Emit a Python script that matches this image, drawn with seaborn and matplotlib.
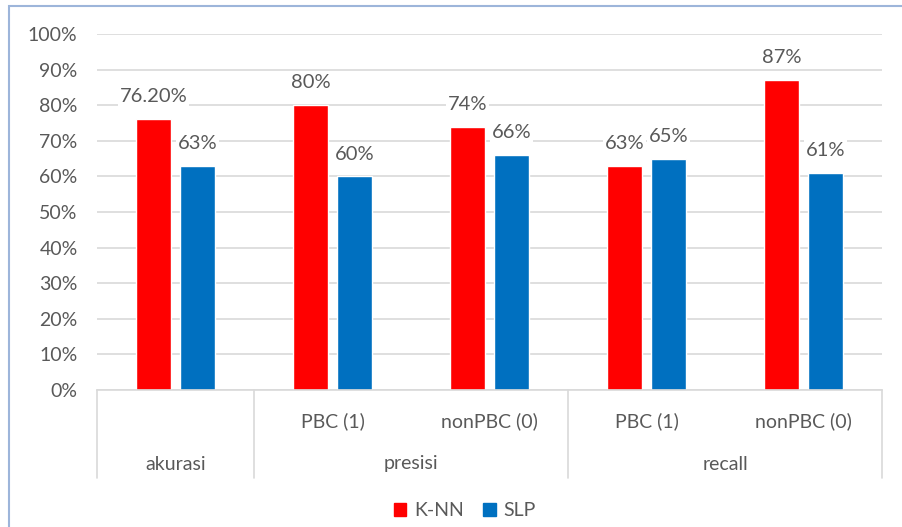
import matplotlib
matplotlib.use("Agg")
import matplotlib.pyplot as plt
import matplotlib.transforms as mtransforms
from matplotlib.patches import Rectangle
import pandas as pd
import seaborn as sns

# data
metrics = ["akurasi", "presisi", "presisi", "recall", "recall"]
classes = ["", "PBC (1)", "nonPBC (0)", "PBC (1)", "nonPBC (0)"]
knn = [76.2, 80, 74, 63, 87]
slp = [63, 60, 66, 65, 61]
knn_labels = ["76.20%", "80%", "74%", "63%", "87%"]
slp_labels = ["63%", "60%", "66%", "65%", "61%"]
models = ["K-NN", "SLP"]
colors = ["#FF0000", "#0070C0"]

keys = [f"{m} {c}".strip() for m, c in zip(metrics, classes)]
df = pd.DataFrame({
    "key": keys * 2,
    "model": [models[0]] * len(keys) + [models[1]] * len(keys),
    "value": knn + slp,
})

sns.set_theme(style="white")
plt.rcParams["font.family"] = ["Lato", "DejaVu Sans"]
text_color = "#595959"
grid_color = "#D9D9D9"

fig = plt.figure(figsize=(9.02, 5.27), dpi=100)
ax = fig.add_axes([97 / 902, 1 - 390 / 527, 785 / 902, 356 / 527])

sns.barplot(data=df, x="key", y="value", hue="model", order=keys,
            palette=colors, width=0.56, gap=0.225, ax=ax, legend=False,
            saturation=1, zorder=2)

ax.set_ylim(0, 100)
ax.set_xlim(-0.5, len(keys) - 0.5)
ax.set_yticks(range(0, 101, 10))
ax.set_yticklabels([f"{v}%" for v in range(0, 101, 10)], color=text_color, fontsize=14)
ax.tick_params(axis="y", length=0, pad=14)
ax.tick_params(axis="x", length=0, labelbottom=False)
ax.set_xlabel("")
ax.set_ylabel("")
ax.yaxis.grid(True, color=grid_color, linewidth=1.2, zorder=0)
ax.set_axisbelow(True)
for s in ["top", "right", "left"]:
    ax.spines[s].set_visible(False)
ax.spines["bottom"].set_color(grid_color)
ax.spines["bottom"].set_linewidth(1.2)

for cont, labs in zip(ax.containers, [knn_labels, slp_labels]):
    ax.bar_label(cont, labels=labs, padding=10, fontsize=14.5, color=text_color,
                 bbox=dict(facecolor="white", edgecolor="none", pad=1.5), zorder=3)

# two-level category axis
trans = mtransforms.blended_transform_factory(ax.transData, ax.transAxes)
for i, c in enumerate(classes):
    if c:
        ax.text(i, -31 / 356, c, transform=trans, ha="center", va="center",
                fontsize=14, color=text_color)
groups = []
for i, m in enumerate(metrics):
    if not groups or groups[-1][0] != m:
        groups.append([m, i, i])
    else:
        groups[-1][2] = i
for m, a, b in groups:
    ax.text((a + b) / 2, -74 / 356, m, transform=trans, ha="center", va="center",
            fontsize=14, color=text_color)
for xs in [groups[0][1] - 0.5] + [g[2] + 0.5 for g in groups]:
    ax.plot([xs, xs], [0, -88 / 356], transform=trans, color=grid_color,
            linewidth=1.2, clip_on=False)

handles = [plt.Rectangle((0, 0), 1, 1, color=c) for c in colors]
leg = fig.legend(handles, models, loc="center", bbox_to_anchor=(465 / 902, 1 - 511 / 527),
                 ncol=2, frameon=False, fontsize=14, handlelength=0.65, handleheight=0.65,
                 handletextpad=0.4, columnspacing=1.0)
for t in leg.get_texts():
    t.set_color(text_color)

# chart border
fig.patches.append(Rectangle((9 / 902, -0.1), 1.1, 1.1 - 6 / 527, transform=fig.transFigure,
                             fill=False, edgecolor="#9DB5DA", linewidth=1.5))

fig.savefig("out.png", dpi=100)
